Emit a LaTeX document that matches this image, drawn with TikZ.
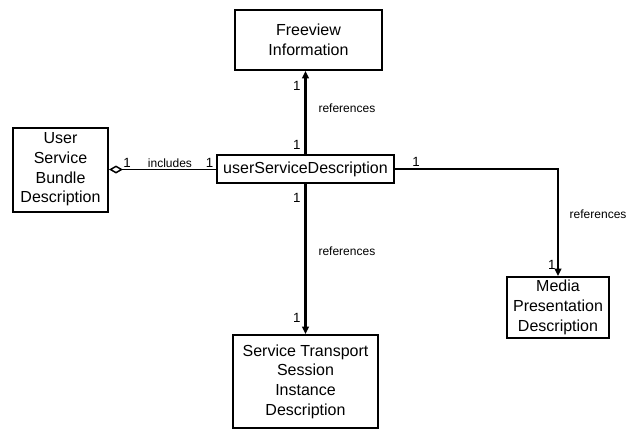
\documentclass[tikz,border=0pt]{standalone}
\usepackage{fontspec}
\setmainfont{Liberation Sans}
\usetikzlibrary{arrows.meta}

\def\px{0.75pt}

\tikzset{
	box/.style = {draw, line width = 1.5pt, inner sep = 0pt, align = center, font = \fontsize{12}{14.8}\selectfont},
	refline/.style = {line width = 1.6pt, -{Triangle[length = 5.5pt, width = 5pt]}},
	mult/.style = {font = \fontsize{10}{12}\selectfont, inner sep = 1pt},
	lbl/.style = {font = \fontsize{9}{11}\selectfont, inner sep = 1pt},
}

\begin{document}
\begin{tikzpicture}[x = \px, y = -\px]
					\useasboundingbox (0,0) rectangle (637,429);

					% classes
					\begin{scope}
						\node [box, minimum width = 147*\px, minimum height = 60*\px] (fv) at (308.5,40) {Freeview\\Information};
						\node [box, minimum width = 177*\px, minimum height = 28*\px] (usd) at (305.5,169) {userServiceDescription};
						\node [box, minimum width = 95*\px, minimum height = 84*\px] (usbd) at (60.5,169.5) {User\\Service\\Bundle\\Description};
						\node [box, minimum width = 102*\px, minimum height = 61*\px] (mpd) at (558,307.5) {Media\\Presentation\\Description};
						\node [box, minimum width = 145*\px, minimum height = 93*\px] (stsid) at (305.5,381.5) {Service Transport\\Session\\Instance\\Description};
					\end{scope}

					% aggregation
					\begin{scope}
						\draw [line width = 1.1pt, {Diamond[open, length = 10.5pt, width = 6pt]}-] (usbd.east) -- (usbd.east -| usd.west)
							node [mult, pos = 0.17, above] (m-inc-a) {1}
							node [lbl, pos = 0.57, above] (l-inc) {includes}
							node [mult, pos = 0.94, above] (m-inc-b) {1};
					\end{scope}

					% references
					\begin{scope}
						\draw [refline] (usd.north) -- (usd.north |- fv.south)
							node [mult, pos = 0.11, left = 2pt] (m-fv-a) {1}
							node [lbl, pos = 0.55, right = 8pt] (l-fv) {references}
							node [mult, pos = 0.82, left = 2pt] (m-fv-b) {1};
						\draw [refline] (usd.south) -- (usd.south |- stsid.north)
							node [mult, pos = 0.09, left = 2pt] (m-st-a) {1}
							node [lbl, pos = 0.45, right = 8pt] (l-st) {references}
							node [mult, pos = 0.89, left = 2pt] (m-st-b) {1};
						\draw [refline] (usd.east) -- node [mult, pos = 0.13, above] (m-mpd-a) {1} (mpd.north |- usd.east)
							-- (mpd.north)
							node [lbl, pos = 0.42, right = 7pt] (l-mpd) {references}
							node [mult, pos = 0.9, left] (m-mpd-b) {1};
					\end{scope}
				\end{tikzpicture}
\end{document}
